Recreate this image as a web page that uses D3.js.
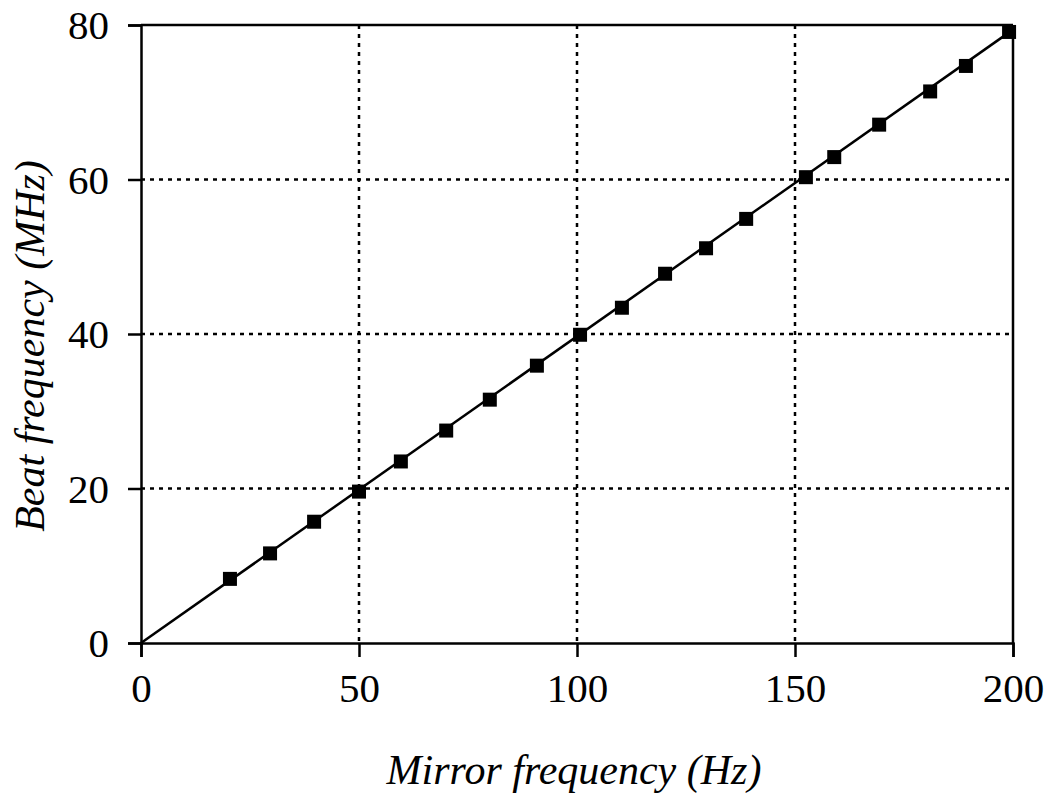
<!DOCTYPE html>
<html><head><meta charset="utf-8">
<script src="https://cdn.jsdelivr.net/npm/d3@7"></script>
<style>body{margin:0;background:#fff}</style>
</head><body>
<svg id="chart" width="1053" height="804"></svg>
<script>
const mirrorHz = [20.4, 29.6, 39.7, 50.0, 59.6, 70.0, 80.0, 90.8, 100.7, 110.3, 120.2, 129.6, 138.8, 152.5, 159.0, 169.3, 181.0, 189.2, 199.1];
const beatMHz  = [8.3, 11.6, 15.7, 19.6, 23.5, 27.5, 31.5, 35.9, 39.9, 43.4, 47.8, 51.1, 54.9, 60.3, 62.9, 67.1, 71.4, 74.7, 79.1];
const fitX = [0, 200];
const fitY = [0, 79.4];
const xTicks = [0, 50, 100, 150, 200];
const yTicks = [0, 20, 40, 60, 80];
const xTitle = "Mirror frequency (Hz)";
const yTitle = "Beat frequency (MHz)";

const svg = d3.select("#chart");
const L = 141, R = 1013, T = 25, B = 643;
const x = d3.scaleLinear().domain([0, 200]).range([L, R]);
const y = d3.scaleLinear().domain([0, 80]).range([B, T]);
const font = "'Liberation Serif','Times New Roman',serif";

// grid
svg.append("g").selectAll("line").data(xTicks.filter(d => d > 0 && d < 200)).join("line")
  .attr("x1", d => x(d)).attr("x2", d => x(d)).attr("y1", T).attr("y2", B)
  .attr("stroke", "#000").attr("stroke-width", 2.5).attr("stroke-dasharray", "4,5");
svg.append("g").selectAll("line").data(yTicks.filter(d => d > 0 && d < 80)).join("line")
  .attr("y1", d => y(d)).attr("y2", d => y(d)).attr("x1", L).attr("x2", R)
  .attr("stroke", "#000").attr("stroke-width", 2.5).attr("stroke-dasharray", "4,5");

// frame top/right
svg.append("line").attr("x1", L).attr("x2", R).attr("y1", T).attr("y2", T).attr("stroke", "#000").attr("stroke-width", 2.5);
svg.append("line").attr("x1", R).attr("x2", R).attr("y1", T).attr("y2", B).attr("stroke", "#000").attr("stroke-width", 2.5);

// axes
const xAxis = svg.append("g").attr("transform", `translate(0,${B})`)
  .call(d3.axisBottom(x).tickValues(xTicks).tickSize(14).tickPadding(16));
const yAxis = svg.append("g").attr("transform", `translate(${L},0)`)
  .call(d3.axisLeft(y).tickValues(yTicks).tickSize(13).tickPadding(19));
[xAxis, yAxis].forEach(g => {
  g.select(".domain").attr("stroke", "#000").attr("stroke-width", 2.5);
  g.selectAll(".tick line").attr("stroke", "#000").attr("stroke-width", 2.5);
  g.selectAll(".tick text").attr("fill", "#000").style("font-family", font).style("font-size", "41px");
});
yAxis.selectAll(".tick text").attr("dy", "0.34em");

// fit line
svg.append("path")
  .datum(fitX.map((d, i) => [d, fitY[i]]))
  .attr("d", d3.line().x(d => x(d[0])).y(d => y(d[1])))
  .attr("stroke", "#000").attr("stroke-width", 2.5).attr("fill", "none");

// markers
const s = 14;
svg.append("g").selectAll("rect").data(mirrorHz.map((d, i) => [d, beatMHz[i]])).join("rect")
  .attr("x", d => x(d[0]) - s / 2).attr("y", d => y(d[1]) - s / 2)
  .attr("width", s).attr("height", s).attr("fill", "#000");

// titles
svg.append("text").attr("x", 574).attr("y", 784).attr("text-anchor", "middle")
  .style("font-family", font).style("font-style", "italic").style("font-size", "42px").text(xTitle);
svg.append("text").attr("transform", "translate(44,346) rotate(-90)").attr("text-anchor", "middle")
  .style("font-family", font).style("font-style", "italic").style("font-size", "42px").text(yTitle);
</script>
</body></html>
